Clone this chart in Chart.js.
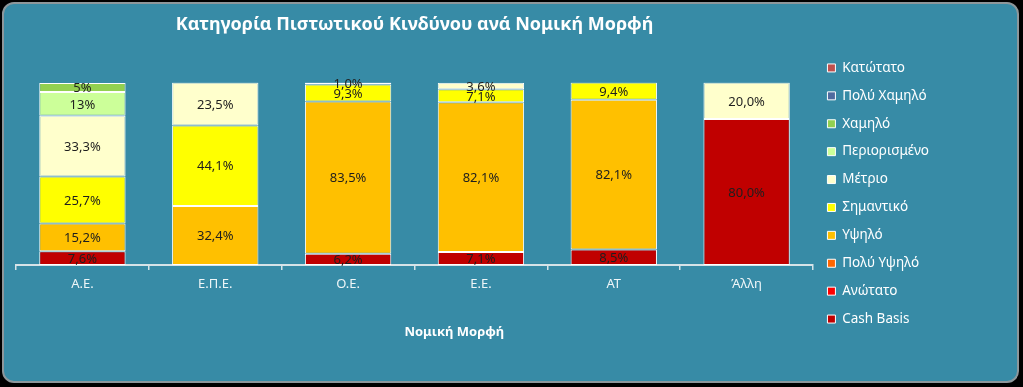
<!DOCTYPE html>
<html>
<head>
<meta charset="utf-8">
<script src="https://cdn.jsdelivr.net/npm/chart.js@4"></script>
<style>
    html, body { margin: 0; padding: 0; background: #000; }
    #panel {
        position: absolute; left: 2px; top: 2px; width: 1017px; height: 381px;
        box-sizing: border-box; border: 2px solid #8d979b; border-radius: 12px;
        background: #378ba6;
    }
    #wrap { position: absolute; left: 0; top: 0; width: 1023px; height: 387px; }
</style>
</head>
<body>
<div id="panel"></div>
<div id="wrap"><canvas id="chartContainer"></canvas></div>
<script>
const chartTitle = 'Κατηγορία Πιστωτικού Κινδύνου ανά Νομική Μορφή';
const xTitle = 'Νομική Μορφή';
const categories = ['Α.Ε.', 'Ε.Π.Ε.', 'Ο.Ε.', 'Ε.Ε.', 'ΑΤ', 'Άλλη'];

// bottom of the stack first
const seriesNames = ['Cash Basis', 'Ανώτατο', 'Πολύ Υψηλό', 'Υψηλό', 'Σημαντικό',
    'Μέτριο', 'Περιορισμένο', 'Χαμηλό', 'Πολύ Χαμηλό', 'Κατώτατο'];
const seriesColors = ['#c00000', '#ff0000', '#ff6600', '#ffc000', '#ffff00',
    '#ffffcc', '#ccff99', '#92d050', '#4f6b9f', '#c0504d'];
const labelDecimals = [1, 1, 1, 1, 1, 1, 0, 0, 1, 1];

const cashBasis    = [7.6, null, 6.2, 7.1, 8.5, 80.0];
const anotato      = [null, null, null, null, null, null];
const polyYpsilo   = [null, null, null, null, null, null];
const ypsilo       = [15.2, 32.4, 83.5, 82.1, 82.1, null];
const simantiko    = [25.7, 44.1, 9.3, 7.1, 9.4, null];
const metrio       = [33.3, 23.5, 1.0, 3.6, null, 20.0];
const periorismeno = [13, null, null, null, null, null];
const xamilo       = [5, null, null, null, null, null];
const polyXamilo   = [null, null, null, null, null, null];
const katotato     = [null, null, null, null, null, null];

const seriesValues = [cashBasis, anotato, polyYpsilo, ypsilo, simantiko,
    metrio, periorismeno, xamilo, polyXamilo, katotato];

const FONT = '"Noto Sans", "DejaVu Sans", sans-serif';
Chart.defaults.font.family = FONT;
Chart.defaults.font.size = 13;
Chart.defaults.color = '#ffffff';

function formatValue(v, decimals) {
    return v.toFixed(decimals).replace('.', ',') + '%';
}

// value labels in the middle of every segment
const barLabels = {
    id: 'barLabels',
    afterDatasetsDraw(chart) {
        const ctx = chart.ctx;
        ctx.save();
        ctx.font = `13px ${FONT}`;
        ctx.fillStyle = '#1e1e1e';
        ctx.textAlign = 'center';
        ctx.textBaseline = 'middle';
        chart.data.datasets.forEach((ds, di) => {
            const meta = chart.getDatasetMeta(di);
            meta.data.forEach((bar, i) => {
                const v = ds.data[i];
                if (v === null || v === undefined) return;
                ctx.fillText(formatValue(v, labelDecimals[di]), bar.x, (bar.y + bar.base) / 2 + 1);
            });
        });
        ctx.restore();
    }
};

// axis title sits a bit right of the plot centre, like the original
const axisTitle = {
    id: 'axisTitle',
    afterDraw(chart) {
        const ctx = chart.ctx;
        const x = chart.scales.x;
        ctx.save();
        ctx.font = `bold 13px ${FONT}`;
        ctx.fillStyle = '#ffffff';
        ctx.textAlign = 'center';
        ctx.textBaseline = 'middle';
        ctx.fillText(xTitle, x.left + x.width * 0.55, 332);
        ctx.restore();
    }
};

const datasets = seriesNames.map((name, i) => ({
    label: name,
    data: seriesValues[i],
    backgroundColor: seriesColors[i],
    borderColor: '#ffffff',
    borderWidth: 1,
    borderSkipped: false,
    barPercentage: 0.65,
    categoryPercentage: 1
}));

new Chart(document.querySelector('#chartContainer'), {
    type: 'bar',
    data: { labels: categories, datasets: datasets },
    plugins: [barLabels, axisTitle],
    options: {
        responsive: true,
        maintainAspectRatio: false,
        animation: false,
        layout: { padding: { left: 16, right: 84, top: 0, bottom: 0 } },
        plugins: {
            tooltip: { enabled: false },
            title: {
                display: true,
                text: chartTitle,
                fullSize: false,
                color: '#ffffff',
                font: { size: 18, weight: 'bold' },
                padding: { top: 14, bottom: 47 }
            },
            legend: {
                position: 'right',
                reverse: true,
                labels: {
                    boxWidth: 8,
                    boxHeight: 8,
                    padding: 14.4,
                    color: '#ffffff',
                    font: { size: 13.5 }
                }
            }
        },
        scales: {
            x: {
                stacked: true,
                grid: {
                    display: true,
                    drawOnChartArea: false,
                    tickLength: 5,
                    color: '#d6e3e8',
                    lineWidth: 1.5
                },
                border: { display: true, color: '#d6e3e8', width: 2 },
                ticks: { color: '#eef6f8', padding: 6, font: { size: 13 } },
                afterFit: (scale) => { scale.height = 122; }
            },
            y: {
                stacked: true,
                display: false,
                min: 0,
                max: 100
            }
        }
    }
});
</script>
</body>
</html>
